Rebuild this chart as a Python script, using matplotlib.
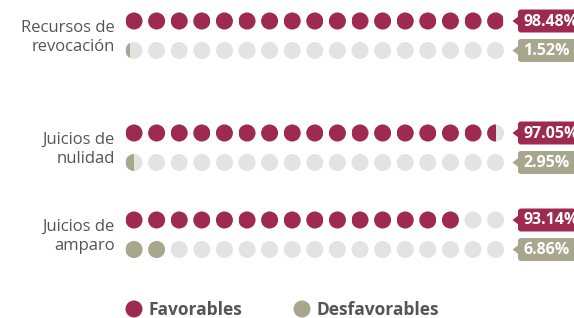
import matplotlib
matplotlib.use("Agg")
import matplotlib.pyplot as plt
from matplotlib.patches import Circle, Rectangle, FancyBboxPatch, Polygon

# data
categories = ["Recursos de\nrevocación", "Juicios de\nnulidad", "Juicios de\namparo"]
favorables = [98.48, 97.05, 93.14]
desfavorables = [1.52, 2.95, 6.86]
# filled dots (out of 17) as drawn in the reference
fav_dots = [16.95, 16.5, 15.0]
desf_dots = [0.25, 0.5, 2.0]
series = ["Favorables", "Desfavorables"]

n_dots = 17
crimson = "#9E2A50"
olive = "#A9A68E"
empty = "#E3E3E3"
text_col = "#555555"

plt.rcParams["font.family"] = ["Open Sans", "DejaVu Sans"]

fig = plt.figure(figsize=(5.74, 3.18), dpi=100)
ax = fig.add_axes([0, 0, 1, 1])
ax.set_xlim(0, 574)
ax.set_ylim(318, 0)
ax.axis("off")

x0, dx, r = 134, 22.6, 8.5
group_y = [21, 133, 220]
row_gap = 29.5


def dot_row(y, filled, color):
    for i in range(n_dots):
        cx = x0 + i * dx
        ax.add_patch(Circle((cx, y), r, color=empty, lw=0))
        frac = min(max(filled - i, 0), 1)
        if frac > 0:
            c = Circle((cx, y), r, color=color, lw=0)
            ax.add_patch(c)
            clip = Rectangle((cx - r, y - r - 1), 2 * r * frac, 2 * r + 2,
                             transform=ax.transData)
            c.set_clip_path(clip)


def tag(y, text, color):
    ax.add_patch(FancyBboxPatch((518, y - 11.5), 70, 23,
                                boxstyle="round,pad=0,rounding_size=3",
                                fc=color, ec="none"))
    ax.add_patch(Polygon([(512.5, y), (519, y - 5), (519, y + 5)],
                         closed=True, fc=color, ec="none"))
    ax.text(523, y + 0.5, text, color="white", fontsize=11.5,
            fontweight="bold", ha="left", va="center")


for k, cat in enumerate(categories):
    yf = group_y[k]
    yd = yf + row_gap
    mid = (yf + yd) / 2
    dot_row(yf, fav_dots[k], crimson)
    dot_row(yd, desf_dots[k], olive)
    tag(yf, f"{favorables[k]:.2f}%", crimson)
    tag(yd, f"{desfavorables[k]:.2f}%", olive)
    l1, l2 = cat.split("\n")
    ax.text(115, mid - 8, l1, color=text_col, fontsize=12, ha="right", va="center")
    ax.text(115, mid + 11, l2, color=text_col, fontsize=12, ha="right", va="center")

# legend
for lx, name, col in [(134, series[0], crimson), (302, series[1], olive)]:
    ax.add_patch(Circle((lx, 309), 8.5, color=col, lw=0))
    ax.text(lx + 14, 310, name, color=text_col, fontsize=12.5,
            fontweight="bold", ha="left", va="center")

fig.savefig("out.png", dpi=100)
